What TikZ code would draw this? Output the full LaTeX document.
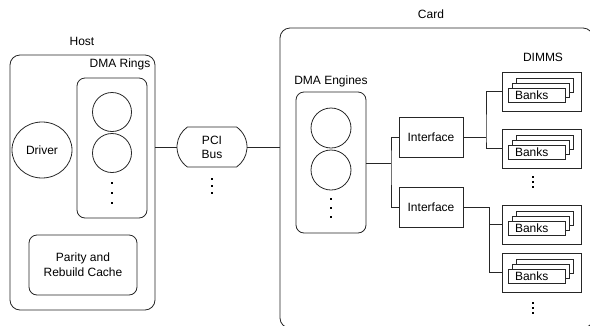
\documentclass[tikz,border=0pt]{standalone}
\usepackage{fontspec}
\setmainfont{Liberation Sans}
\usetikzlibrary{shapes.misc,shapes.geometric}
\begin{document}
\begin{tikzpicture}[x=1pt,y=-1pt,
  every node/.style={font=\fontsize{12}{14}\selectfont, inner sep=0pt},
  ln/.style={line width=0.8pt, draw=black!85},
  rbox/.style={ln, draw, rounded corners=8pt},
  plainbox/.style={ln, draw, rectangle, fill=white},
  ring/.style={ln, draw, circle, minimum size=39pt},
  lbl/.style={},
  dotsq/.style={fill=black},
  dimmbox/.pic={
    \node[plainbox, minimum width=79pt, minimum height=39pt] (-box) at (0,0) {};
    \node[plainbox, minimum width=57pt, minimum height=14pt] (-back) at (3,-6.5) {};
    \node[plainbox, minimum width=57pt, minimum height=14pt] (-mid) at (-1,-1.5) {};
    \node[plainbox, minimum width=57pt, minimum height=14pt, text width=43pt, align=left] (-front) at (-5,3.5) {Banks};
  }
]
\clip (0,0) rectangle (590,325);
\useasboundingbox (0,0) rectangle (590,325);

% Host
\node[lbl] (hostlbl) at (82,41) {Host};
\node[rbox, rounded corners=10pt, minimum width=145pt, minimum height=255pt] (host) at (82.5,182.5) {};
\node[lbl] (ringlbl) at (120,64) {DMA Rings};
\node[rbox, minimum width=70pt, minimum height=140pt] (rings) at (112,148) {};
\node[ring] (r1) at (112,112) {};
\node[ring] (r2) at (112,153) {};
\foreach \yy in {183,193,203} \fill[dotsq] (110.8,\yy-1.3) rectangle (113.2,\yy+1.3);
\node[ln, draw, ellipse, minimum width=60pt, minimum height=56pt] (driver) at (42,150) {Driver};
\node[rbox, minimum width=108pt, minimum height=60pt, align=center] (parity) at (83,265) {Parity and\\[1pt]Rebuild Cache};

% PCI
\node[ln, draw, rounded rectangle, rounded rectangle arc length=110, minimum width=70pt, minimum height=40pt, align=center] (pci) at (212,147) {PCI\\Bus};
\foreach \yy in {179,186,193} \fill[dotsq] (210.8,\yy-1.3) rectangle (213.2,\yy+1.3);

% Card
\node[lbl] (cardlbl) at (431,14) {Card};
\node[rbox, rounded corners=10pt, minimum width=313pt, minimum height=300pt] (card) at (436.5,178) {};
\node[lbl] (englbl) at (331,81) {DMA Engines};
\node[rbox, minimum width=70pt, minimum height=141pt] (engines) at (331,162.5) {};
\node[ring, minimum size=40pt] (e1) at (331,128) {};
\node[ring, minimum size=40pt] (e2) at (331,170) {};
\foreach \yy in {199,208,217} \fill[dotsq] (329.8,\yy-1.3) rectangle (332.2,\yy+1.3);

\node[plainbox, minimum width=64pt, minimum height=40pt] (if1) at (431,137) {Interface};
\node[plainbox, minimum width=64pt, minimum height=40pt] (if2) at (431,207) {Interface};

\node[lbl] (dimmlbl) at (543,57) {DIMMS};
\pic (d1) at (541.5,91.5) {dimmbox};
\pic (d2) at (541.5,148.5) {dimmbox};
\pic (d3) at (541.5,224.5) {dimmbox};
\pic (d4) at (541.5,272.5) {dimmbox};
\foreach \yy in {177,182,187,303,308,313} \fill[dotsq] (531.8,\yy-1.2) rectangle (534.2,\yy+1.2);

% Connectors
\coordinate (j) at (391,163);
\coordinate (b1) at (486,137);
\coordinate (b2) at (489,207);
\draw[ln] (pci.west) -- (pci.west -| host.east);
\draw[ln] (pci.east) -- (pci.east -| card.west);
\draw[ln] (engines.east |- j) -- (j);
\draw[ln] (if1.west) -| (j) |- (if2.west);
\draw[ln] (if1.east) -- (b1);
\draw[ln] (d1-box.west) -| (b1) |- (d2-box.west);
\draw[ln] (if2.east) -- (b2);
\draw[ln] (b2) |- (d4-box.west);
\draw[ln] (d3-box.west) -- (d3-box.west -| b2);
\end{tikzpicture}
\end{document}
